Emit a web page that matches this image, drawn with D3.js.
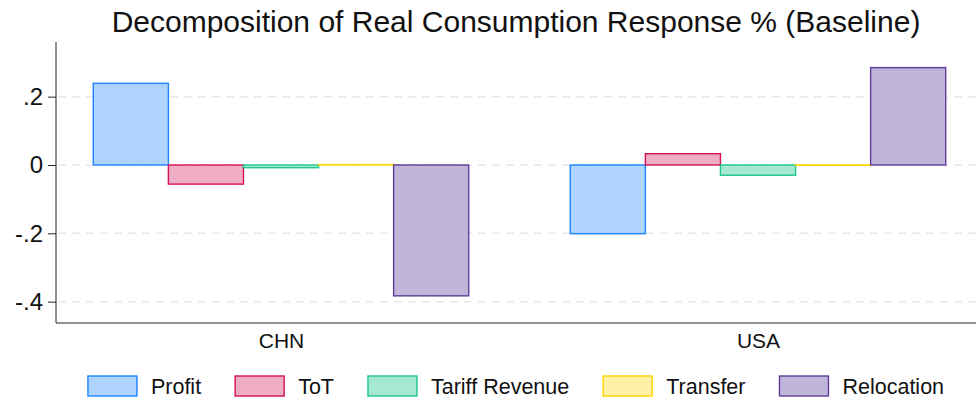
<!DOCTYPE html>
<html>
<head>
<meta charset="utf-8">
<script src="https://cdn.jsdelivr.net/npm/d3@7"></script>
<style>
  body { margin: 0; background: #fff; }
  svg, svg text { font-family: "Liberation Sans", Arial, Helvetica, sans-serif; }
  .grid line { stroke: #e8e8e8; stroke-width: 1.5; stroke-dasharray: 8,6; }
  .axis path, .axis line { stroke: #222; }
  .axis text { fill: #111; }
</style>
</head>
<body>
<svg id="chart" width="976" height="400"></svg>
<script>
const countries = ['CHN', 'USA'];
const components = ['Profit', 'ToT', 'Tariff Revenue', 'Transfer', 'Relocation'];
const chnValues = [0.239, -0.056, -0.008, 0.001, -0.383];
const usaValues = [-0.201, 0.033, -0.030, -0.001, 0.285];
const yTicks = [0.2, 0, -0.2, -0.4];
const strokeColors = ['#1a85ff', '#d41159', '#1fc68c', '#ffd400', '#5e3c99'];
const fillColors = ['#afd4ff', '#f0adc6', '#a6e9d3', '#fff0a6', '#c2b5da'];

const plotLeft = 56;
const plotRight = 976;
const plotTop = 42;
const plotBottom = 323;

const rows = countries.map((c, i) => ({
  country: c,
  values: (i === 0 ? chnValues : usaValues).map((v, j) => ({ key: components[j], value: v })),
}));

const svg = d3.select('#chart');

const x0 = d3.scalePoint()
  .domain(countries)
  .range([281, 758]);

const x1 = d3.scaleBand()
  .domain(components)
  .range([-187.7, 187.7])
  .padding(0);

const y = d3.scaleLinear()
  .domain([-0.4625, 0.36])
  .range([plotBottom, plotTop]);

const color = d3.scaleOrdinal().domain(components).range(strokeColors);
const fill = d3.scaleOrdinal().domain(components).range(fillColors);

// gridlines
svg.append('g')
  .attr('class', 'grid')
  .selectAll('line')
  .data(yTicks)
  .enter()
  .append('line')
  .attr('x1', plotLeft + 2)
  .attr('x2', plotRight)
  .attr('y1', (d) => y(d))
  .attr('y2', (d) => y(d));

// bars
svg.append('g')
  .selectAll('g')
  .data(rows)
  .enter()
  .append('g')
  .attr('transform', (d) => `translate(${x0(d.country)},0)`)
  .selectAll('rect')
  .data((d) => d.values)
  .enter()
  .append('rect')
  .attr('x', (d) => x1(d.key))
  .attr('width', x1.bandwidth())
  .attr('y', (d) => y(Math.max(0, d.value)))
  .attr('height', (d) => Math.abs(y(d.value) - y(0)))
  .attr('fill', (d) => fill(d.key))
  .attr('stroke', (d) => color(d.key))
  .attr('stroke-width', 1.4);

// y axis
const fmt = (d) => (d === 0 ? '0' : d3.format('.1f')(d).replace('0.', '.').replace('\u2212', '-'));
const yAxis = svg.append('g')
  .attr('class', 'axis')
  .attr('transform', `translate(${plotLeft},0)`)
  .call(d3.axisLeft(y).tickValues(yTicks).tickFormat(fmt).tickSize(8).tickSizeOuter(0).tickPadding(5));
yAxis.select('.domain').attr('d', `M0,${plotTop}V${plotBottom}`);
yAxis.selectAll('text').attr('font-size', 24);

// x axis
const xAxis = svg.append('g')
  .attr('class', 'axis')
  .attr('transform', `translate(0,${plotBottom})`)
  .call(d3.axisBottom(x0).tickSize(0).tickPadding(10));
xAxis.select('.domain').attr('d', `M${plotLeft},0H${plotRight}`);
xAxis.selectAll('text').attr('font-size', 21);

// title
svg.append('text')
  .text('Decomposition of Real Consumption Response % (Baseline)')
  .attr('x', (plotLeft + plotRight) / 2)
  .attr('y', 32)
  .attr('text-anchor', 'middle')
  .attr('font-size', 30)
  .attr('fill', '#111');

// legend
const legend = svg.append('g').attr('transform', 'translate(0,376)');
const items = legend.selectAll('g')
  .data(components)
  .enter()
  .append('g');
items.append('rect')
  .attr('width', 49)
  .attr('height', 20)
  .attr('fill', (d) => fill(d))
  .attr('stroke', (d) => color(d))
  .attr('stroke-width', 1.4);
items.append('text')
  .text((d) => d)
  .attr('x', 63)
  .attr('y', 18)
  .attr('font-size', 21.5)
  .attr('fill', '#111');

const gap = 34;
let pos = 0;
const offsets = [];
items.each(function () {
  offsets.push(pos);
  const w = d3.select(this).select('text').node().getComputedTextLength();
  pos += 63 + w + gap;
});
const total = pos - gap;
const start = (plotLeft + plotRight) / 2 - total / 2;
items.attr('transform', (d, i) => `translate(${start + offsets[i]},0)`);
</script>
</body>
</html>
